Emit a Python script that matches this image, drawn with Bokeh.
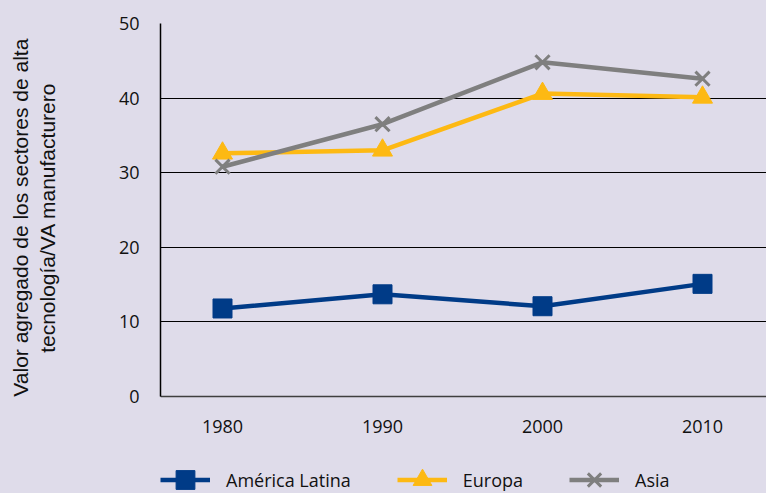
from bokeh.plotting import figure
from bokeh.models import Range1d, FixedTicker, Legend, LegendItem
from bokeh.embed import file_html
from bokeh.resources import INLINE

years = [1980, 1990, 2000, 2010]
america_latina = [11.8, 13.7, 12.1, 15.1]
europa = [32.6, 33.0, 40.6, 40.1]
asia = [30.8, 36.5, 44.8, 42.6]
y_ticks = [0, 10, 20, 30, 40, 50]
y_title_lines = ["Valor agregado de los sectores de alta", "tecnología/VA manufacturero"]
series_names = ["América Latina", "Europa", "Asia"]

BG = "#dfdcea"
NAVY = "#003b87"
YELLOW = "#fdb913"
GRAY = "#7f7f7f"
TICK_FONT = "Open Sans"

# frame spans the full height; value 0 sits 97px above the bottom edge
PX_PER_UNIT = (396 - 23) / 50.0
y_bottom = -97 / PX_PER_UNIT

p = figure(width=766, height=493, output_backend="svg", toolbar_location=None,
           x_range=Range1d(1976.125, 2014.0), y_range=Range1d(y_bottom, 50),
           min_border_left=160, min_border_right=0, min_border_top=23, min_border_bottom=0)
p.background_fill_color = BG
p.border_fill_color = BG
p.outline_line_color = None

# grid
p.xgrid.grid_line_color = None
p.ygrid.grid_line_color = "black"
p.ygrid.grid_line_width = 1
p.ygrid.ticker = FixedTicker(ticks=y_ticks)

# axes
p.xaxis.ticker = FixedTicker(ticks=years)
p.xaxis.fixed_location = 0
p.yaxis.ticker = FixedTicker(ticks=y_ticks)
p.yaxis.bounds = (0, 50)
for ax in (p.xaxis[0], p.yaxis[0]):
    ax.major_tick_line_color = None
    ax.minor_tick_line_color = None
    ax.major_label_text_font = TICK_FONT
    ax.major_label_text_font_size = "18px"
    ax.major_label_text_color = "#111111"
p.xaxis.axis_line_color = "#3f3f3f"
p.xaxis.axis_line_width = 1.5
p.xaxis.major_label_standoff = 17
p.yaxis.axis_line_color = "black"
p.yaxis.axis_line_width = 1.5
p.yaxis.major_label_standoff = 15
# the axis title is centred on the (taller) frame; leading no-break spaces lift it
pad = "\u00a0" * 14
p.yaxis.axis_label = "\n".join(pad + s for s in y_title_lines)
p.yaxis.axis_label_text_font = "Liberation Sans"
p.yaxis.axis_label_text_font_size = "21px"
p.yaxis.axis_label_text_font_style = "normal"
p.yaxis.axis_label_text_color = "#111111"
p.yaxis.axis_label_text_line_height = 1.15
p.yaxis.axis_label_standoff = 57

# series
l1 = p.line(years, america_latina, line_color=NAVY, line_width=4.5)
m1 = p.scatter(years, america_latina, marker="square", size=19, fill_color=NAVY, line_color=NAVY)
l2 = p.line(years, europa, line_color=YELLOW, line_width=4.5)
m2 = p.scatter(years, europa, marker="triangle", size=20, fill_color=YELLOW, line_color=YELLOW)
l3 = p.line(years, asia, line_color=GRAY, line_width=4.5)
m3 = p.scatter(years, asia, marker="x", size=20, line_color=GRAY, line_width=3)

legend = Legend(items=[
    LegendItem(label=series_names[0], renderers=[l1, m1]),
    LegendItem(label=series_names[1], renderers=[l2, m2]),
    LegendItem(label=series_names[2], renderers=[l3, m3]),
], orientation="horizontal", location=(0, -10))
legend.glyph_width = 50
legend.glyph_height = 47
legend.label_standoff = 16
legend.spacing = 46
legend.padding = 0
legend.margin = 0
legend.border_line_color = None
legend.background_fill_alpha = 0
legend.label_text_font = TICK_FONT
legend.label_text_font_size = "18px"
legend.label_text_color = "#111111"
legend.label_height = 47
p.add_layout(legend, "center")

html = file_html(p, INLINE)
html = html.replace("<body>", '<body style="background:%s">' % BG)
open("out.html", "w").write(html)
